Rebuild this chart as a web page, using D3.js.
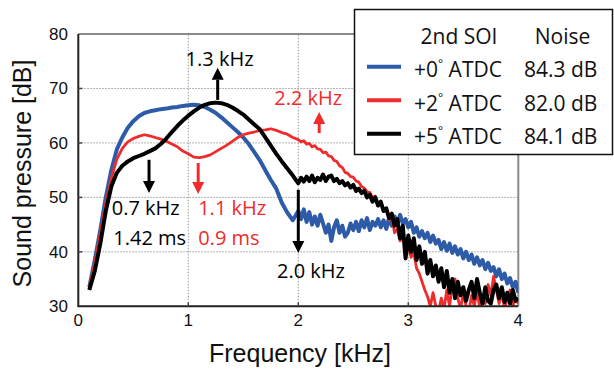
<!DOCTYPE html>
<html>
<head>
<meta charset="utf-8">
<script src="https://cdn.jsdelivr.net/npm/d3@7"></script>
<style>
  body { margin: 0; background: #fff; }
  .tick-label { font-family: "Liberation Sans", Arial, sans-serif; font-size: 17px; fill: #111; }
  .axis-title { font-family: "Liberation Sans", Arial, sans-serif; font-size: 25px; fill: #111; }
  .note { font-family: "Open Sans", sans-serif; font-size: 20px; }
  .legend-text { font-family: "Open Sans", sans-serif; font-size: 21px; fill: #111; }
</style>
</head>
<body>
<svg id="chart" width="614" height="369"></svg>
<script>
// frequency axis [kHz]: coarser below 2 kHz, finer in the noisy part
const freq = [
  0.10, 0.15, 0.20, 0.25, 0.30, 0.35, 0.40, 0.45, 0.50, 0.55,
  0.60, 0.65, 0.70, 0.75, 0.80, 0.85, 0.90, 0.95, 1.00, 1.05,
  1.10, 1.15, 1.20, 1.25, 1.30, 1.35, 1.40, 1.45, 1.50, 1.55,
  1.60, 1.65, 1.70, 1.75, 1.80, 1.85, 1.90, 1.95,
  2.000, 2.025, 2.050, 2.075, 2.100, 2.125, 2.150, 2.175, 2.200, 2.225,
  2.250, 2.275, 2.300, 2.325, 2.350, 2.375, 2.400, 2.425, 2.450, 2.475,
  2.500, 2.525, 2.550, 2.575, 2.600, 2.625, 2.650, 2.675, 2.700, 2.725,
  2.750, 2.775, 2.800, 2.825, 2.850, 2.875, 2.900, 2.925, 2.950, 2.975,
  3.000, 3.025, 3.050, 3.075, 3.100, 3.125, 3.150, 3.175, 3.200, 3.225,
  3.250, 3.275, 3.300, 3.325, 3.350, 3.375, 3.400, 3.425, 3.450, 3.475,
  3.500, 3.525, 3.550, 3.575, 3.600, 3.625, 3.650, 3.675, 3.700, 3.725,
  3.750, 3.775, 3.800, 3.825, 3.850, 3.875, 3.900, 3.925, 3.950, 3.975,
  4.000
];

// sound pressure [dB], one array per 2nd SOI timing
const soi0 = [
  33.5, 38.5, 44.0, 50.0, 55.0, 58.8, 61.0, 62.8, 64.0, 64.9,
  65.5, 65.8, 66.0, 66.2, 66.3, 66.5, 66.6, 66.8, 66.9, 67.0,
  66.9, 66.6, 66.1, 65.5, 64.7, 63.8, 62.9, 62.0, 61.0, 59.8,
  58.3, 56.8, 55.0, 53.2, 51.6, 49.0, 47.2, 45.8,
  47.5, 46.0, 47.8, 45.5, 47.3, 45.0, 46.5, 44.8, 46.8, 45.2,
  43.5, 45.0, 42.0, 44.5, 45.8, 43.5, 44.8, 42.8, 43.5, 45.2,
  44.0, 45.5, 43.8, 45.8, 44.5, 46.2, 44.0, 45.5, 44.8, 46.0,
  44.5, 45.8, 44.2, 46.2, 44.8, 46.5, 45.0, 46.8, 45.2, 46.0,
  44.5, 45.5, 43.5, 44.5, 42.8, 43.8, 42.5, 43.5, 41.8, 43.0,
  41.5, 42.2, 40.5, 41.8, 40.2, 41.5, 39.8, 41.0, 39.5, 40.5,
  38.8, 40.0, 38.5, 39.5, 37.8, 39.0, 37.5, 38.5, 36.8, 38.0,
  36.5, 37.2, 35.5, 36.8, 35.0, 36.0, 34.2, 35.2, 33.5, 34.5,
  32.5
];
const soi2 = [
  33.5, 38.0, 43.5, 49.0, 53.5, 57.0, 59.0, 60.2, 60.8, 61.2,
  61.5, 61.3, 61.0, 60.7, 60.3, 59.8, 59.3, 58.5, 58.0, 57.4,
  57.3, 57.5, 57.8, 58.4, 59.0, 59.6, 60.3, 61.0, 61.5, 61.8,
  62.0, 62.3, 62.4, 62.6, 62.3, 61.9, 61.6, 61.0,
  60.6, 60.2, 60.4, 59.8, 59.9, 59.3, 59.5, 58.9, 58.8, 58.2,
  58.3, 57.6, 57.5, 56.8, 56.6, 55.8, 55.5, 54.6, 54.4, 53.8,
  53.7, 53.0, 52.8, 52.0, 51.7, 51.0, 50.9, 50.0, 50.2, 48.8,
  49.2, 47.5, 48.0, 45.8, 46.5, 43.5, 44.2, 42.0, 42.8, 40.5,
  41.0, 39.0, 39.8, 37.0, 36.0, 34.5, 33.0, 31.8, 30.0, 32.5,
  30.0, 29.0, 31.5, 29.5, 33.0, 30.0, 34.0, 35.0, 31.5, 29.5,
  32.5, 30.0, 29.0, 32.0, 30.0, 33.0, 29.5, 31.5, 30.5, 34.0,
  32.0, 35.5, 33.0, 30.5, 32.5, 29.5, 31.5, 33.0, 30.0, 31.5,
  30.5
];
const soi5 = [
  33.0, 36.5, 41.5, 47.5, 52.0, 54.5, 55.8, 56.6, 57.2, 57.6,
  58.0, 58.5, 59.0, 59.8, 60.8, 62.0, 63.1, 64.1, 65.0, 65.8,
  66.5, 67.0, 67.3, 67.4, 67.3, 67.0, 66.5, 65.9, 65.2, 64.3,
  63.4, 62.5, 61.0, 59.5, 58.0, 56.6, 55.3, 54.0,
  52.6, 53.6, 52.9, 53.8, 53.0, 54.0, 52.8, 53.6, 53.2, 54.2,
  53.0, 53.8, 54.0, 53.0, 53.4, 52.6, 53.0, 52.2, 52.6, 51.8,
  52.3, 51.2, 51.6, 50.8, 51.2, 50.0, 50.5, 49.2, 50.0, 48.5,
  49.2, 47.5, 48.0, 46.2, 47.0, 44.8, 46.0, 42.5, 44.8, 38.8,
  43.0, 40.0, 42.5, 38.5, 41.0, 37.8, 40.0, 36.0, 38.5, 35.5,
  37.5, 34.5, 37.0, 33.5, 36.5, 32.5, 35.0, 31.5, 34.5, 32.0,
  33.5, 31.0, 33.0, 34.5, 31.5, 35.0, 32.5, 30.5, 33.5, 31.0,
  30.5, 33.0, 34.0, 31.5, 33.5, 30.8, 32.5, 30.5, 33.0, 31.0,
  31.5
];

const seriesNames = ["+0", "+2", "+5"];
const noiseLabels = ["84.3 dB", "82.0 dB", "84.1 dB"];
const colors = ["#2d5ba8", "#f02b2b", "#000000"];
const widths = [4, 2.8, 4];

const xTicks = [0, 1, 2, 3, 4];
const yTicks = [30, 40, 50, 60, 70, 80];

// annotation arrows: frequency, start dB, end dB (tip)
const arrowF = [0.643, 1.09, 1.267, 2.19, 2.0];
const arrowFrom = [56.9, 56.3, 67.9, 61.8, 51.4];
const arrowTo = [50.8, 50.6, 73.8, 65.7, 39.8];
const arrowColor = ["#000", "#f02b2b", "#000", "#f02b2b", "#000"];

// annotation texts: label, frequency, dB (baseline), anchor
const noteText = ["1.3 kHz", "2.2 kHz", "0.7 kHz", "1.1 kHz", "1.42 ms", "0.9 ms", "2.0 kHz"];
const noteF = [1.284, 2.09, 0.304, 1.09, 0.318, 1.09, 2.115];
const noteDb = [74.2, 67.0, 46.8, 46.8, 41.3, 41.3, 35.2];
const noteAnchor = ["middle", "middle", "start", "start", "start", "start", "middle"];
const noteColor = ["#000", "#f02b2b", "#000", "#f02b2b", "#000", "#f02b2b", "#000"];

const svg = d3.select("#chart");

const x = d3.scaleLinear().domain([0, 4]).range([78.3, 518.3]);
const y = d3.scaleLinear().domain([30, 80]).range([306.3, 34]);

// grid
const grid = svg.append("g");
grid.selectAll("line.vg")
  .data(xTicks.slice(1, -1))
  .join("line")
  .attr("x1", d => x(d)).attr("x2", d => x(d))
  .attr("y1", y(30)).attr("y2", y(80))
  .attr("stroke", "#9a9a9a").attr("stroke-width", 1).attr("stroke-dasharray", "1.5,1.5");
grid.selectAll("line.hg")
  .data(yTicks.slice(1, -1))
  .join("line")
  .attr("x1", x(0)).attr("x2", x(4))
  .attr("y1", d => y(d)).attr("y2", d => y(d))
  .attr("stroke", "#9a9a9a").attr("stroke-width", 1).attr("stroke-dasharray", "1.5,1.5");

// top and right border (grey)
svg.append("path")
  .attr("d", `M${x(0)},${y(80)}H${x(4)}V${y(30)}`)
  .attr("fill", "none").attr("stroke", "#8a8a8a").attr("stroke-width", 2);

// clip for the curves
svg.append("defs").append("clipPath").attr("id", "plot-clip")
  .append("rect")
  .attr("x", x(0)).attr("y", y(80))
  .attr("width", x(4) - x(0)).attr("height", y(30) - y(80));

const line = d3.line()
  .x((d, i) => x(freq[i]))
  .y(d => y(d));

const curves = svg.append("g").attr("clip-path", "url(#plot-clip)");
[soi0, soi2, soi5].forEach((vals, k) => {
  curves.append("path")
    .datum(vals)
    .attr("d", line)
    .attr("fill", "none")
    .attr("stroke", colors[k])
    .attr("stroke-width", widths[k])
    .attr("stroke-linejoin", "round");
});

// axes (left and bottom black)
svg.append("path")
  .attr("d", `M${x(0)},${y(80)}V${y(30)}H${x(4)}`)
  .attr("fill", "none").attr("stroke", "#222").attr("stroke-width", 2);

// inner tick marks
svg.selectAll("line.xt")
  .data(xTicks.slice(1, -1))
  .join("line")
  .attr("x1", d => x(d)).attr("x2", d => x(d))
  .attr("y1", y(30)).attr("y2", y(30) - 4)
  .attr("stroke", "#444").attr("stroke-width", 1.5);
svg.selectAll("line.yt")
  .data(yTicks.slice(1, -1))
  .join("line")
  .attr("x1", x(0)).attr("x2", x(0) + 4)
  .attr("y1", d => y(d)).attr("y2", d => y(d))
  .attr("stroke", "#444").attr("stroke-width", 1.5);

// tick labels
svg.selectAll("text.xl")
  .data(xTicks)
  .join("text")
  .attr("class", "tick-label")
  .attr("x", d => x(d)).attr("y", 325.5)
  .attr("text-anchor", "middle")
  .text(d => d);
svg.selectAll("text.yl")
  .data(yTicks)
  .join("text")
  .attr("class", "tick-label")
  .attr("x", 68).attr("y", d => y(d) + 6)
  .attr("text-anchor", "end")
  .text(d => d);

// axis titles
svg.append("text")
  .attr("class", "axis-title")
  .attr("x", 300).attr("y", 361.5)
  .attr("text-anchor", "middle")
  .text("Frequency [kHz]");
svg.append("text")
  .attr("class", "axis-title")
  .attr("transform", "translate(31,173.5) rotate(-90)")
  .attr("text-anchor", "middle")
  .text("Sound pressure [dB]");

// arrows
arrowF.forEach((f, i) => {
  const ax = x(f), y1 = y(arrowFrom[i]), y2 = y(arrowTo[i]);
  const dir = y2 > y1 ? 1 : -1;
  const head = 12, half = 6;
  svg.append("line")
    .attr("x1", ax).attr("x2", ax)
    .attr("y1", y1).attr("y2", y2 - dir * head)
    .attr("stroke", arrowColor[i]).attr("stroke-width", 3);
  svg.append("path")
    .attr("d", `M${ax},${y2}L${ax - half},${y2 - dir * head}L${ax + half},${y2 - dir * head}Z`)
    .attr("fill", arrowColor[i]);
});

// annotation texts
noteText.forEach((t, i) => {
  svg.append("text")
    .attr("class", "note")
    .attr("x", x(noteF[i])).attr("y", y(noteDb[i]))
    .attr("text-anchor", noteAnchor[i])
    .attr("fill", noteColor[i])
    .text(t);
});

// legend
const lg = svg.append("g");
lg.append("rect")
  .attr("x", 354.5).attr("y", 9.5)
  .attr("width", 258).attr("height", 145)
  .attr("fill", "#fff").attr("stroke", "#111").attr("stroke-width", 1.5);
lg.append("text").attr("class", "legend-text")
  .attr("x", 459).attr("y", 44).attr("text-anchor", "middle").text("2nd SOI");
lg.append("text").attr("class", "legend-text")
  .attr("x", 562.5).attr("y", 44).attr("text-anchor", "middle").text("Noise");
seriesNames.forEach((s, i) => {
  const by = 77.3 + i * 33.5;
  lg.append("line")
    .attr("x1", 367).attr("x2", 401)
    .attr("y1", by - 10.5).attr("y2", by - 10.5)
    .attr("stroke", colors[i]).attr("stroke-width", 4);
  const t = lg.append("text").attr("class", "legend-text")
    .attr("x", 414).attr("y", by);
  t.append("tspan").text(s);
  t.append("tspan").attr("dy", -9).attr("font-size", 12).text("°");
  t.append("tspan").attr("dy", 9).text(" ATDC");
  lg.append("text").attr("class", "legend-text")
    .attr("x", 524).attr("y", by).text(noiseLabels[i]);
});
</script>
</body>
</html>
